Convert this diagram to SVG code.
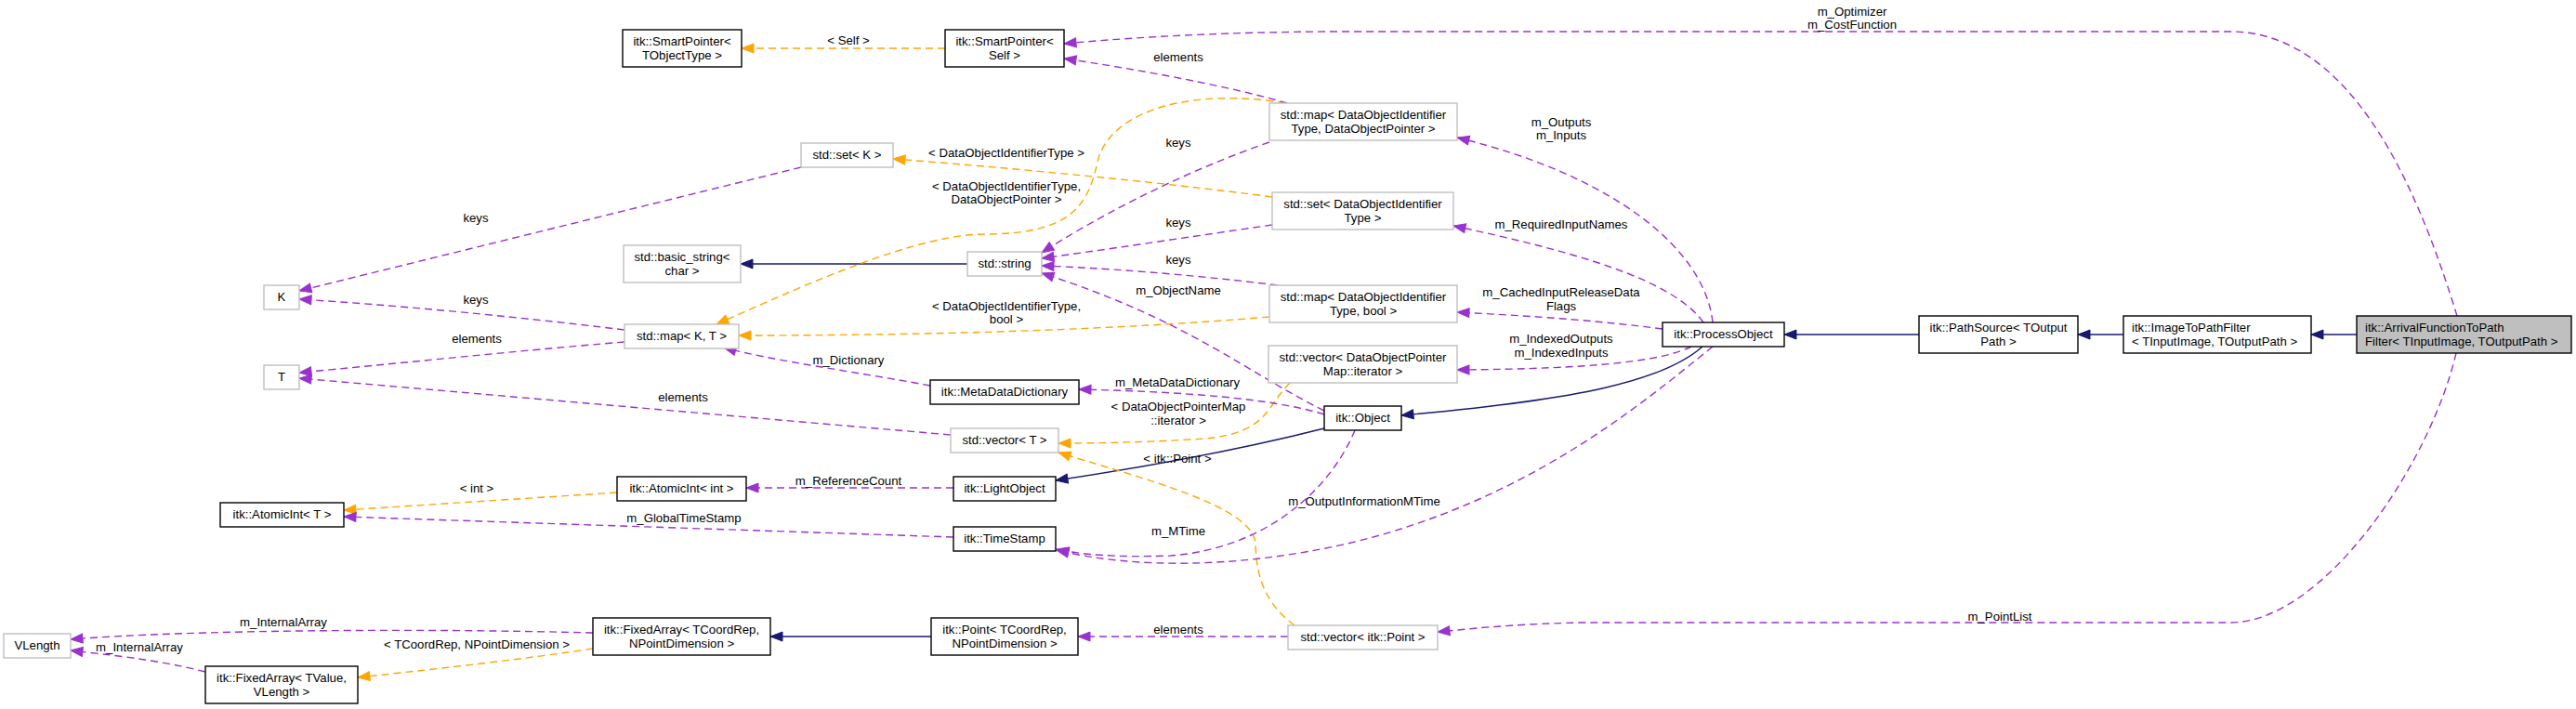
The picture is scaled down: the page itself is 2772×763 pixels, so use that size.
<svg xmlns="http://www.w3.org/2000/svg" width="2772" height="763" viewBox="0 0 2772 763">
<style>
rect{fill:#fff;stroke:#000;stroke-width:1.4}
.u rect{stroke:#bfbfbf}
.h rect{fill:#bfbfbf}
text{font-family:"Liberation Sans",Arial,Helvetica,sans-serif;font-size:13.2px;fill:#000;text-anchor:middle}
.l text{text-anchor:start}
.e path{fill:none;stroke-width:1.4}
.e .b{stroke:#191970;marker-end:url(#ab)}
.e .o{stroke:#ffa500;stroke-dasharray:8,5;marker-end:url(#ao)}
.e .p{stroke:#9a32cd;stroke-dasharray:8,5;marker-end:url(#ap)}
</style>
<defs>
<marker id="ab" viewBox="-1 -1 15 12" refX="13" refY="5" markerWidth="15" markerHeight="12" markerUnits="userSpaceOnUse" orient="auto"><path d="M0,0 L13,5 L0,10 z" fill="#191970" stroke="#191970" stroke-width="1"/></marker>
<marker id="ao" viewBox="-1 -1 15 12" refX="13" refY="5" markerWidth="15" markerHeight="12" markerUnits="userSpaceOnUse" orient="auto"><path d="M0,0 L13,5 L0,10 z" fill="#ffa500" stroke="#ffa500" stroke-width="1"/></marker>
<marker id="ap" viewBox="-1 -1 15 12" refX="13" refY="5" markerWidth="15" markerHeight="12" markerUnits="userSpaceOnUse" orient="auto"><path d="M0,0 L13,5 L0,10 z" fill="#9a32cd" stroke="#9a32cd" stroke-width="1"/></marker>
</defs>
<rect x="0" y="0" width="2772" height="763" style="fill:#fff;stroke:none"/>
<g id="connectors" class="e">
<path class="b" d="M2536,360 L2487,360"/>
<path class="b" d="M2285,360 L2236,360"/>
<path class="b" d="M2065,360 L1920,360"/>
<path class="b" d="M1832,373 C1790,410 1700,430 1508,447"/>
<path class="b" d="M1425,461 C1350,480 1250,500 1136,517"/>
<path class="b" d="M1041,284 L797,284"/>
<path class="b" d="M1002,685 L829,685"/>
<path class="o" d="M1017,52 L798,52"/>
<path class="o" d="M1369,212 C1250,196 1080,180 961,171"/>
<path class="o" d="M1383,111 C1290,95 1200,115 1182,170 C1172,215 1160,252 1060,252 C990,252 880,300 771,349"/>
<path class="o" d="M1366,341 C1200,355 1000,361 795,361"/>
<path class="o" d="M1388,412 C1360,440 1365,470 1280,473 C1230,476 1180,477 1139,477"/>
<path class="o" d="M1393,673 C1355,645 1352,610 1351,585 C1349,545 1230,515 1139,487"/>
<path class="o" d="M664,530 L370,549"/>
<path class="o" d="M638,698 C560,710 450,722 385,729"/>
<path class="p" d="M2644,340 C2610,230 2540,34 2400,34 L1450,34 C1300,34 1200,42 1145,47"/>
<path class="p" d="M1385,111 C1320,92 1220,74 1145,63"/>
<path class="p" d="M1843,347 C1835,270 1740,190 1568,148"/>
<path class="p" d="M1833,347 C1800,300 1690,270 1564,243"/>
<path class="p" d="M1789,354 C1720,345 1650,340 1568,336"/>
<path class="p" d="M1820,373 C1790,388 1720,397 1568,398"/>
<path class="p" d="M1843,373 C1760,440 1640,540 1450,585 C1330,612 1220,612 1137,592"/>
<path class="p" d="M1458,463 C1430,530 1360,590 1260,598 C1200,600 1165,597 1137,591"/>
<path class="p" d="M1425,442 C1340,400 1280,345 1121,294"/>
<path class="p" d="M1425,446 C1380,432 1300,422 1161,419"/>
<path class="p" d="M1366,153 C1260,190 1170,240 1121,272"/>
<path class="p" d="M1369,242 C1280,255 1180,270 1121,278"/>
<path class="p" d="M1375,307 C1280,295 1180,288 1121,286"/>
<path class="p" d="M862,180 L322,313"/>
<path class="p" d="M672,355 C550,340 420,328 322,322"/>
<path class="p" d="M672,368 C550,378 420,392 322,401"/>
<path class="p" d="M1023,468 L322,407"/>
<path class="p" d="M1001,415 C920,400 830,388 779,374"/>
<path class="p" d="M1026,525 L803,525"/>
<path class="p" d="M1026,578 L370,556"/>
<path class="p" d="M638,681 C450,676 200,678 76,688"/>
<path class="p" d="M221,723 C170,710 120,705 76,700"/>
<path class="p" d="M1386,685 L1160,685"/>
<path class="p" d="M2643,380 C2615,500 2500,670 2400,670 L1700,670 C1620,672 1580,677 1547,680"/>
<text x="913" y="48">&lt; Self &gt;</text>
<text x="1083" y="169">&lt; DataObjectIdentifierType &gt;</text>
<text x="1083" y="205">&lt; DataObjectIdentifierType,</text>
<text x="1083" y="219">DataObjectPointer &gt;</text>
<text x="1083" y="334">&lt; DataObjectIdentifierType,</text>
<text x="1083" y="348">bool &gt;</text>
<text x="1268" y="442">&lt; DataObjectPointerMap</text>
<text x="1268" y="457">::iterator &gt;</text>
<text x="1267" y="498">&lt; itk::Point &gt;</text>
<text x="513" y="530">&lt; int &gt;</text>
<text x="513" y="698">&lt; TCoordRep, NPointDimension &gt;</text>
<text x="1993" y="17">m_Optimizer</text>
<text x="1993" y="31">m_CostFunction</text>
<text x="1268" y="66">elements</text>
<text x="1680" y="136">m_Outputs</text>
<text x="1680" y="150">m_Inputs</text>
<text x="1680" y="246">m_RequiredInputNames</text>
<text x="1680" y="319">m_CachedInputReleaseData</text>
<text x="1680" y="334">Flags</text>
<text x="1680" y="369">m_IndexedOutputs</text>
<text x="1680" y="384">m_IndexedInputs</text>
<text x="1468" y="544">m_OutputInformationMTime</text>
<text x="1268" y="576">m_MTime</text>
<text x="1268" y="317">m_ObjectName</text>
<text x="1267" y="416">m_MetaDataDictionary</text>
<text x="1268" y="158">keys</text>
<text x="1268" y="244">keys</text>
<text x="1268" y="284">keys</text>
<text x="512" y="239">keys</text>
<text x="512" y="327">keys</text>
<text x="513" y="369">elements</text>
<text x="735" y="432">elements</text>
<text x="913" y="392">m_Dictionary</text>
<text x="913" y="522">m_ReferenceCount</text>
<text x="736" y="562">m_GlobalTimeStamp</text>
<text x="305" y="674">m_InternalArray</text>
<text x="150" y="701">m_InternalArray</text>
<text x="1268" y="682">elements</text>
<text x="2152" y="668">m_PointList</text>
</g>
<g id="node_arrival" class="h l"><rect x="2536" y="340" width="231" height="40"/><text x="2545" y="357">itk::ArrivalFunctionToPath</text><text x="2545" y="372">Filter&lt; TInputImage, TOutputPath &gt;</text></g>
<g id="node_imagetopathfilter" class="l"><rect x="2285" y="340" width="202" height="40"/><text x="2294" y="357">itk::ImageToPathFilter</text><text x="2294" y="372">&lt; TInputImage, TOutputPath &gt;</text></g>
<g id="node_pathsource"><rect x="2065" y="340" width="171" height="40"/><text x="2150.5" y="357">itk::PathSource&lt; TOutput</text><text x="2150.5" y="372">Path &gt;</text></g>
<g id="node_processobject"><rect x="1789" y="347" width="131" height="26"/><text x="1854.5" y="364.3">itk::ProcessObject</text></g>
<g id="node_smartpointer_self"><rect x="1017" y="32" width="128" height="40"/><text x="1081" y="49">itk::SmartPointer&lt;</text><text x="1081" y="64">Self &gt;</text></g>
<g id="node_smartpointer_tobjecttype"><rect x="670" y="32" width="128" height="40"/><text x="734" y="49">itk::SmartPointer&lt;</text><text x="734" y="64">TObjectType &gt;</text></g>
<g id="node_map_doi_dop" class="u"><rect x="1366" y="111" width="202" height="40"/><text x="1467" y="128">std::map&lt; DataObjectIdentifier</text><text x="1467" y="143">Type, DataObjectPointer &gt;</text></g>
<g id="node_set_doi" class="u"><rect x="1369" y="207" width="195" height="40"/><text x="1466.5" y="224">std::set&lt; DataObjectIdentifier</text><text x="1466.5" y="239">Type &gt;</text></g>
<g id="node_map_doi_bool" class="u"><rect x="1366" y="307" width="202" height="40"/><text x="1467" y="324">std::map&lt; DataObjectIdentifier</text><text x="1467" y="339">Type, bool &gt;</text></g>
<g id="node_vector_dop_iter" class="u"><rect x="1365" y="372" width="203" height="40"/><text x="1466.5" y="389">std::vector&lt; DataObjectPointer</text><text x="1466.5" y="404">Map::iterator &gt;</text></g>
<g id="node_set_k" class="u"><rect x="862" y="154" width="99" height="26"/><text x="911.5" y="171.3">std::set&lt; K &gt;</text></g>
<g id="node_basic_string" class="u"><rect x="671" y="264" width="126" height="40"/><text x="734" y="281">std::basic_string&lt;</text><text x="734" y="296">char &gt;</text></g>
<g id="node_string" class="u"><rect x="1041" y="271" width="80" height="26"/><text x="1081" y="288.3">std::string</text></g>
<g id="node_map_k_t" class="u"><rect x="672" y="349" width="123" height="26"/><text x="733.5" y="366.3">std::map&lt; K, T &gt;</text></g>
<g id="node_k" class="u"><rect x="284" y="307" width="38" height="26"/><text x="303" y="324.3">K</text></g>
<g id="node_t" class="u"><rect x="284" y="393" width="38" height="26"/><text x="303" y="410.3">T</text></g>
<g id="node_metadatadictionary"><rect x="1001" y="409" width="160" height="26"/><text x="1081" y="426.3">itk::MetaDataDictionary</text></g>
<g id="node_object"><rect x="1425" y="437" width="83" height="26"/><text x="1466.5" y="454.3">itk::Object</text></g>
<g id="node_vector_t" class="u"><rect x="1023" y="461" width="116" height="26"/><text x="1081" y="478.3">std::vector&lt; T &gt;</text></g>
<g id="node_atomicint_int"><rect x="664" y="513" width="139" height="26"/><text x="733.5" y="530.3">itk::AtomicInt&lt; int &gt;</text></g>
<g id="node_lightobject"><rect x="1026" y="513" width="110" height="26"/><text x="1081" y="530.3">itk::LightObject</text></g>
<g id="node_atomicint_t"><rect x="237" y="541" width="133" height="26"/><text x="303.5" y="558.3">itk::AtomicInt&lt; T &gt;</text></g>
<g id="node_timestamp"><rect x="1026" y="567" width="110" height="26"/><text x="1081" y="584.3">itk::TimeStamp</text></g>
<g id="node_fixedarray_tcoordrep"><rect x="638" y="665" width="191" height="40"/><text x="733.5" y="682">itk::FixedArray&lt; TCoordRep,</text><text x="733.5" y="697">NPointDimension &gt;</text></g>
<g id="node_point"><rect x="1002" y="665" width="158" height="40"/><text x="1081" y="682">itk::Point&lt; TCoordRep,</text><text x="1081" y="697">NPointDimension &gt;</text></g>
<g id="node_vector_point" class="u"><rect x="1386" y="673" width="161" height="26"/><text x="1466.5" y="690.3">std::vector&lt; itk::Point &gt;</text></g>
<g id="node_vlength" class="u"><rect x="4" y="682" width="72" height="26"/><text x="40" y="699.3">VLength</text></g>
<g id="node_fixedarray_tvalue"><rect x="221" y="717" width="164" height="40"/><text x="303" y="734">itk::FixedArray&lt; TValue,</text><text x="303" y="749">VLength &gt;</text></g>
</svg>
